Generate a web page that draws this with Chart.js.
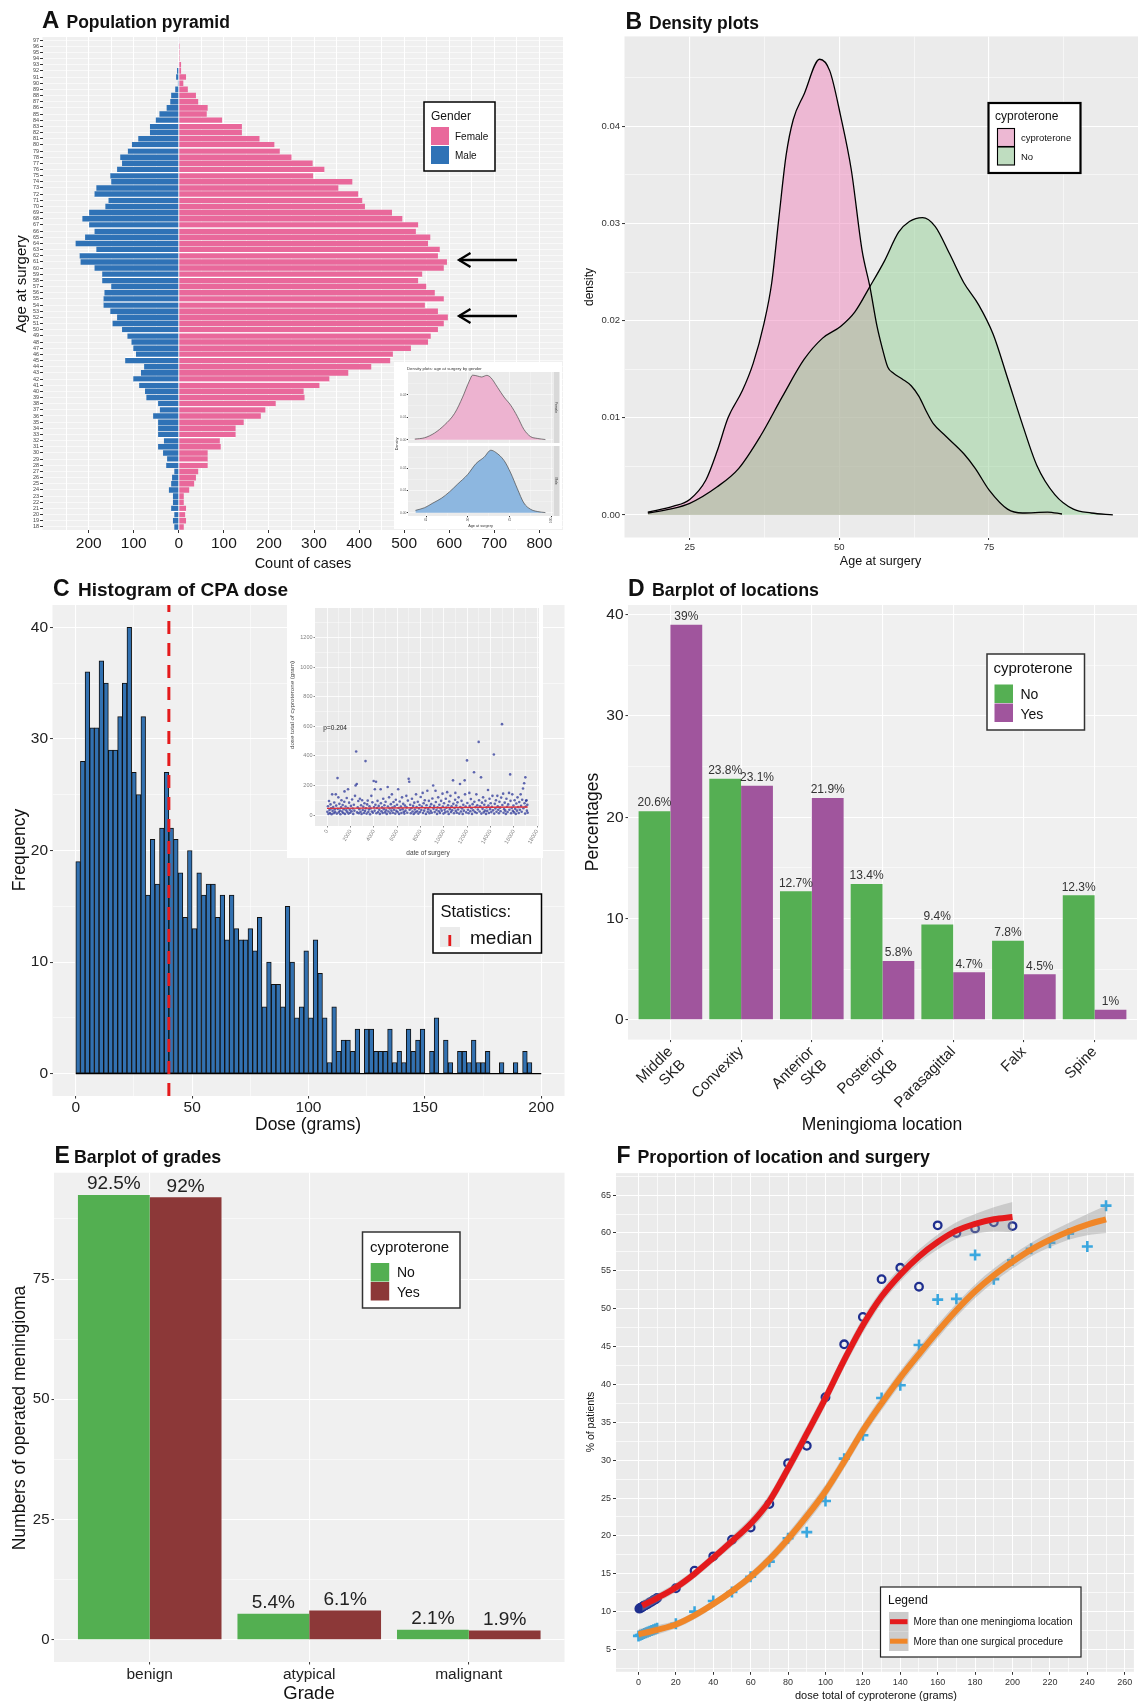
<!DOCTYPE html>
<html><head><meta charset="utf-8">
<script src="https://cdn.jsdelivr.net/npm/chart.js@4.4.1/dist/chart.umd.min.js"></script>
<style>
html,body{margin:0;padding:0;background:#fff;}
#wrap{position:relative;width:1142px;height:1702px;overflow:hidden;background:#fff;}
canvas{position:absolute;}
.ibg{position:absolute;background:#fff;}
#ov{position:absolute;left:0;top:0;z-index:10;}
</style></head>
<body><div id="wrap">
<div class="ibg" style="left:394px;top:362px;width:168px;height:167px;z-index:2"></div>
<div class="ibg" style="left:287px;top:604px;width:256px;height:254px;z-index:2"></div>
<svg id="ov" width="1142" height="1702" font-family="'Liberation Sans', Arial, Helvetica, sans-serif" fill="#111">
<text x="42" y="27.5" font-size="24" font-weight="bold">A</text>
<text x="66.5" y="27.5" font-size="17.5" font-weight="bold">Population pyramid</text>
<text x="625.5" y="28.5" font-size="23" font-weight="bold">B</text>
<text x="649" y="28.5" font-size="17.5" font-weight="bold">Density plots</text>
<text x="53" y="595.5" font-size="23" font-weight="bold">C</text>
<text x="78" y="595.5" font-size="19" font-weight="bold">Histogram of CPA dose</text>
<text x="628" y="595.5" font-size="23" font-weight="bold">D</text>
<text x="652" y="595.5" font-size="17.8" font-weight="bold">Barplot of locations</text>
<text x="54.5" y="1162.5" font-size="23" font-weight="bold">E</text>
<text x="74" y="1162.5" font-size="17.8" font-weight="bold">Barplot of grades</text>
<text x="616.5" y="1162.5" font-size="23" font-weight="bold">F</text>
<text x="637.5" y="1162.5" font-size="17.8" font-weight="bold">Proportion of location and surgery</text>
<text x="303" y="568" font-size="14.5" text-anchor="middle">Count of cases</text>
<text transform="translate(26,284) rotate(-90)" font-size="15" text-anchor="middle">Age at surgery</text>
<text x="880.5" y="564.5" font-size="12.5" text-anchor="middle">Age at surgery</text>
<text transform="translate(593,287) rotate(-90)" font-size="12" text-anchor="middle">density</text>
<text x="308" y="1129.5" font-size="17.5" text-anchor="middle">Dose (grams)</text>
<text transform="translate(24.5,850) rotate(-90)" font-size="17.5" text-anchor="middle">Frequency</text>
<text x="882" y="1129.5" font-size="17.5" text-anchor="middle">Meningioma location</text>
<text transform="translate(597.5,822) rotate(-90)" font-size="17.5" text-anchor="middle">Percentages</text>
<text x="309" y="1699" font-size="18.5" text-anchor="middle">Grade</text>
<text transform="translate(24.5,1418) rotate(-90)" font-size="17.5" text-anchor="middle">Numbers of operated meningioma</text>
<text x="876" y="1698.5" font-size="11" text-anchor="middle">dose total of cyproterone (grams)</text>
<text transform="translate(594,1422) rotate(-90)" font-size="10.5" text-anchor="middle">% of patients</text>
<rect x="424" y="102" width="71" height="69" fill="#fff" stroke="#000" stroke-width="1.5"/>
<text x="431" y="119.5" font-size="12">Gender</text>
<rect x="431" y="127" width="18" height="18" fill="#E9689B"/>
<rect x="431" y="146" width="18" height="18" fill="#2F72B6"/>
<text x="455" y="140" font-size="10">Female</text>
<text x="455" y="159" font-size="10">Male</text>
<g stroke="#000" stroke-width="2.3" fill="none">
<line x1="459" y1="260" x2="517" y2="260"/><polyline points="470.5,253 459,260 470.5,267"/>
<line x1="459" y1="316" x2="517" y2="316"/><polyline points="470.5,309 459,316 470.5,323"/>
</g>
<text x="407" y="369.5" font-size="4.3" fill="#333">Density plots: age at surgery by gender</text>
<text transform="translate(397.5,444) rotate(-90)" font-size="3.8" text-anchor="middle" fill="#333">Density</text>
<text x="480.5" y="527" font-size="3.8" text-anchor="middle" fill="#333">Age at surgery</text>
<rect x="553.5" y="372" width="6" height="71" fill="#D9D9D9"/>
<rect x="553.5" y="446" width="6" height="70" fill="#D9D9D9"/>
<text transform="translate(555.3,407.5) rotate(90)" font-size="3.3" text-anchor="middle" fill="#333">Female</text>
<text transform="translate(555.3,481) rotate(90)" font-size="3.3" text-anchor="middle" fill="#333">Male</text>
<rect x="988.5" y="103" width="92" height="70" fill="#fff" stroke="#000" stroke-width="2.2"/>
<text x="995" y="120" font-size="12">cyproterone</text>
<rect x="997.5" y="128.5" width="17" height="18" fill="#EDB8D3" stroke="#000" stroke-width="1.1"/>
<rect x="997.5" y="147" width="17" height="18" fill="#BFDDC0" stroke="#000" stroke-width="1.1"/>
<text x="1021" y="141" font-size="9.5">cyproterone</text>
<text x="1021" y="159.5" font-size="9.5">No</text>
<text x="323.3" y="729.5" font-size="6.5" fill="#222">p=0.204</text>
<text x="428" y="854.5" font-size="6.5" text-anchor="middle" fill="#444">date of surgery</text>
<text transform="translate(294,705) rotate(-90)" font-size="6.2" text-anchor="middle" fill="#444">dose total of cyproterone (gram)</text>
<rect x="433" y="894" width="108.5" height="59" fill="#fff" stroke="#000" stroke-width="1.5"/>
<text x="440.5" y="916.5" font-size="16.5">Statistics:</text>
<rect x="440" y="927" width="20" height="20" fill="#EBEBEB"/>
<line x1="449.8" y1="935" x2="449.8" y2="946" stroke="#E41A1C" stroke-width="2.8"/>
<text x="470" y="943.5" font-size="19">median</text>
<rect x="987" y="654" width="97.5" height="76" fill="#fff" stroke="#333" stroke-width="1.5"/>
<text x="993.5" y="673" font-size="15">cyproterone</text>
<rect x="994.5" y="684.5" width="18.5" height="18.5" fill="#55AF53"/>
<rect x="994.5" y="703.5" width="18.5" height="18.5" fill="#A0559D"/>
<text x="1020.5" y="699" font-size="14">No</text>
<text x="1020.5" y="718.5" font-size="14">Yes</text>
<rect x="362.5" y="1232" width="97.5" height="76" fill="#fff" stroke="#333" stroke-width="1.5"/>
<text x="370" y="1252" font-size="15">cyproterone</text>
<rect x="370.7" y="1263" width="18.5" height="18.5" fill="#53AF51"/>
<rect x="370.7" y="1282" width="18.5" height="18.5" fill="#8C3838"/>
<text x="397" y="1277" font-size="14">No</text>
<text x="397" y="1296.5" font-size="14">Yes</text>
<rect x="880.5" y="1587" width="200.5" height="70" fill="#fff" stroke="#222" stroke-width="1.2"/>
<text x="888" y="1603.5" font-size="12">Legend</text>
<rect x="889" y="1612" width="19.5" height="19.5" fill="#CCCCCC"/>
<line x1="890" y1="1621.7" x2="907.5" y2="1621.7" stroke="#E41A1C" stroke-width="5"/>
<rect x="889" y="1631.5" width="19.5" height="19.5" fill="#CCCCCC"/>
<line x1="890" y1="1641.2" x2="907.5" y2="1641.2" stroke="#F08628" stroke-width="5"/>
<text x="913.5" y="1625" font-size="10">More than one meningioma location</text>
<text x="913.5" y="1644.7" font-size="10">More than one surgical procedure</text>
</svg>
</div>
<script>
// ================= DATA =================
const ages = [18,19,20,21,22,23,24,25,26,27,28,29,30,31,32,33,34,35,36,37,38,39,40,41,42,43,44,45,46,47,48,49,50,51,52,53,54,55,56,57,58,59,60,61,62,63,64,65,66,67,68,69,70,71,72,73,74,75,76,77,78,79,80,81,82,83,84,85,86,87,88,89,90,91,92,93,94,95,96,97];
const female = [11,16,14,16,11,11,23,34,38,43,64,64,64,93,91,126,126,144,182,192,215,279,277,312,334,376,427,469,475,515,553,559,575,588,597,575,546,588,568,549,531,540,588,595,575,579,553,558,526,531,496,473,413,407,398,354,385,298,323,297,250,224,212,179,140,140,96,62,64,43,38,20,10,16,5,5,2,2,2,1];
const male = [10,13,10,17,13,13,22,17,15,10,28,26,35,46,33,46,46,46,57,42,46,72,75,88,101,84,77,119,95,101,105,114,126,147,137,152,167,167,165,150,170,170,187,218,220,183,229,208,187,199,214,199,163,156,187,183,150,152,137,126,130,113,104,90,64,64,51,43,27,19,17,8,2,6,4,1,0,0,1,1];
const pyramidTicks = [-250,-200,-150,-100,-50,0,50,100,150,200,250,300,350,400,450,500,550,600,650,700,750,800];
const pyramidGaps = [20.5,28.5,32.5,37.5,41.5,45.5,49.5,54.5,58.5,62.5,66.5,71.5,75.5,79.5,83.5];
const insetFemaleAge = [18.1,24,30,36,42,46.8,50.8,52.8,55.8,58.1,61.3,63.7,67.7,71.6,75.6,79.6,83.5,87.5,91.5,96.4];
const insetFemaleDens = [0.0003,0.0009,0.003,0.0066,0.0117,0.0189,0.026,0.0286,0.0282,0.0278,0.0285,0.0275,0.0232,0.0189,0.0153,0.0103,0.0046,0.0014,0.0006,0.0001];
const insetMaleAge = [18.5,24,29,34,38.9,43.8,49.8,54.8,59.7,63.7,66.7,71.6,75.6,79.6,83.5,87.5,91.5,96.4];
const insetMaleDens = [0.0011,0.0023,0.0044,0.0065,0.0094,0.0129,0.0172,0.0221,0.025,0.0281,0.0271,0.0235,0.0179,0.0108,0.0044,0.0016,0.0006,0.0001];
const insetATicksX = [25,37.5,50,62.5,75,87.5,100];
const insetATicksY = [0,0.005,0.01,0.015,0.02,0.025];
const pinkAge = [18.0,22.3,25.0,27.7,29.6,31.4,33.8,35.6,37.4,38.7,39.9,41.1,42.3,44.1,46.7,48.4,50.2,52.0,53.8,55.1,56.3,57.2,58.1,59.0,60.5,62.0,63.3,64.5,65.7,67.8,70.8,72.7,75.1,78.1,80.6,84.8,87.2];
const pinkDens = [0.0003,0.0009,0.0016,0.0036,0.0066,0.0100,0.0128,0.0156,0.0197,0.0239,0.0306,0.0370,0.0407,0.0433,0.0469,0.0457,0.0411,0.0355,0.0272,0.0235,0.0194,0.0171,0.0152,0.0146,0.0140,0.0133,0.0122,0.0107,0.0094,0.0081,0.0063,0.0048,0.0025,0.0006,0.0002,0.0003,0.0001];
const greenAge = [18.0,21.7,25.0,29.6,33.2,36.8,40.5,44.1,47.2,50.2,52.6,55.1,57.5,59.9,61.7,63.9,66.0,68.4,70.8,73.3,75.7,78.1,80.6,83.0,86.0,89.1,92.1,95.7];
const greenDens = [0.0002,0.0006,0.0012,0.0029,0.0048,0.0081,0.0122,0.0160,0.0182,0.0194,0.0209,0.0235,0.0261,0.0291,0.0302,0.0306,0.0297,0.0269,0.0239,0.0216,0.0186,0.0141,0.0093,0.0051,0.0021,0.0006,0.0002,0.0000];
const densityTicksX = [25,37.5,50,62.5,75,87.5];
const densityTicksY = [0,0.005,0.01,0.015,0.02,0.025,0.03,0.035,0.04,0.045];
const histBins = [1,3,5,7,9,11,13,15,17,19,21,23,25,27,29,31,33,35,37,39,41,43,45,47,49,51,53,55,57,59,61,63,65,67,69,71,73,75,77,79,81,83,85,87,89,91,93,95,97,99,101,103,105,107,109,111,113,115,117,119,121,123,125,127,129,131,133,135,137,139,141,143,145,147,149,151,153,155,157,159,161,163,165,167,169,171,173,175,177,179,181,183,185,187,189,191,193,195,197,199];
const histCounts = [19,28,36,31,31,37,35,29,29,32,35,40,27,25,32,16,21,17,22,27,22,21,18,14,20,13,18,16,17,17,14,16,12,16,13,12,12,13,11,14,6,10,8,8,6,15,10,5,6,11,5,12,9,5,1,6,2,3,3,2,4,0,4,4,2,2,2,4,1,2,1,4,2,3,4,0,2,5,0,3,1,0,2,2,1,3,1,1,2,0,0,1,0,0,1,0,2,1,0,0];
const medianDose = 40;
const histTicksX = [0,25,50,75,100,125,150,175,200];
const histTicksY = [0,5,10,15,20,25,30,35,40];
const insetPoints = [[30,22],[80,60],[120,8],[170,95],[210,35],[260,14],[300,72],[350,45],[390,5],[440,140],[480,28],[530,55],[570,12],[620,85],[660,38],[700,20],[750,140],[790,64],[840,10],[900,250],[920,42],[970,120],[1010,18],[1060,76],[1100,30],[1150,6],[1200,52],[1240,100],[1290,24],[1340,68],[1380,14],[1430,40],[1480,90],[1500,160],[1540,8],[1590,58],[1640,32],[1690,115],[1740,20],[1780,48],[1800,175],[1850,10],[1900,84],[1950,36],[2000,16],[2050,62],[2100,26],[2150,105],[2200,44],[2250,8],[2300,70],[2350,30],[2400,130],[2450,200],[2500,430],[2550,210],[2580,18],[2630,52],[2680,95],[2720,12],[2770,40],[2820,110],[2870,22],[2920,66],[2960,8],[3010,100],[3060,34],[3110,56],[3160,14],[3210,80],[3260,28],[3300,365],[3340,46],[3390,10],[3440,72],[3490,98],[3540,20],[3590,38],[3640,60],[3690,6],[3740,44],[3800,130],[3840,24],[3890,86],[3940,16],[4000,230],[4030,54],[4080,30],[4100,175],[4150,70],[4200,225],[4230,12],[4280,48],[4330,96],[4380,20],[4430,62],[4480,36],[4530,8],[4600,175],[4620,80],[4670,26],[4720,52],[4770,14],[4820,110],[4870,40],[4920,66],[4970,18],[5020,90],[5070,32],[5120,8],[5200,190],[5220,58],[5270,24],[5320,120],[5370,44],[5420,12],[5470,74],[5520,30],[5560,140],[5600,50],[5650,16],[5700,88],[5750,36],[5800,60],[5850,10],[5900,104],[5950,28],[6000,70],[6050,20],[6100,175],[6130,48],[6180,8],[6230,92],[6280,34],[6330,58],[6380,14],[6430,120],[6480,40],[6530,76],[6580,22],[6630,10],[6680,64],[6730,30],[6800,130],[6830,52],[6880,16],[6930,98],[7000,245],[7050,225],[7080,36],[7130,70],[7180,12],[7230,46],[7280,110],[7330,24],[7380,62],[7430,8],[7480,84],[7530,38],[7580,18],[7630,140],[7680,54],[7730,26],[7780,90],[7830,10],[7880,44],[7930,68],[7980,20],[8030,122],[8080,34],[8130,58],[8200,150],[8230,14],[8280,80],[8330,30],[8380,100],[8430,48],[8480,8],[8530,66],[8600,165],[8630,22],[8680,40],[8730,96],[8780,12],[8830,56],[8880,28],[8930,74],[8980,16],[9030,112],[9100,200],[9130,42],[9180,62],[9230,20],[9300,165],[9330,88],[9380,34],[9430,8],[9480,52],[9530,120],[9580,26],[9630,70],[9680,14],[9730,44],[9780,96],[9830,30],[9900,145],[9930,58],[9980,10],[10030,80],[10080,36],[10130,18],[10180,110],[10230,50],[10300,155],[10330,24],[10380,66],[10430,8],[10480,92],[10530,40],[10580,130],[10630,20],[10680,60],[10730,32],[10800,235],[10830,76],[10880,12],[10930,48],[10980,104],[11000,150],[11030,28],[11080,64],[11130,16],[11180,86],[11230,38],[11280,120],[11330,10],[11400,210],[11430,54],[11480,24],[11530,96],[11580,44],[11630,8],[11680,70],[11730,30],[11800,235],[11830,140],[11880,58],[11930,18],[12000,370],[12030,82],[12080,36],[12130,12],[12200,150],[12230,62],[12280,26],[12330,108],[12380,46],[12430,8],[12480,74],[12530,32],[12600,290],[12630,90],[12680,20],[12730,54],[12800,140],[12830,14],[12880,66],[12930,38],[13000,495],[13030,100],[13080,24],[13130,60],[13200,255],[13230,10],[13280,84],[13330,42],[13380,120],[13430,18],[13480,70],[13530,30],[13580,96],[13630,8],[13680,52],[13730,28],[13800,170],[13830,64],[13880,14],[13930,110],[13980,40],[14030,80],[14080,20],[14130,56],[14180,130],[14230,32],[14300,410],[14330,10],[14380,76],[14430,44],[14480,100],[14530,22],[14600,130],[14630,60],[14680,36],[14730,12],[14780,90],[14830,50],[14880,26],[14930,118],[15000,615],[15030,68],[15100,145],[15130,16],[15180,40],[15230,84],[15280,30],[15330,8],[15380,110],[15430,56],[15480,20],[15530,72],[15600,150],[15630,36],[15700,275],[15730,96],[15780,12],[15830,48],[15880,140],[15930,28],[15980,64],[16030,18],[16080,100],[16130,42],[16180,8],[16230,78],[16280,30],[16330,120],[16380,54],[16430,14],[16480,88],[16530,36],[16600,140],[16630,62],[16680,22],[16730,104],[16800,180],[16830,46],[16900,215],[16930,80],[16980,10],[17000,255],[17030,58],[17060,96],[17100,100],[17130,30],[17170,70],[17200,16]];
const insetTrend = [[0,45],[17200,55]];
const insetCTicksX = [0,1000,2000,3000,4000,5000,6000,7000,8000,9000,10000,11000,12000,13000,14000,15000,16000,17000,18000];
const insetCTicksY = [0,100,200,300,400,500,600,700,800,900,1000,1100,1200,1300];
const locLabels = [['Middle','SKB'],'Convexity',['Anterior','SKB'],['Posterior','SKB'],'Parasagittal','Falx','Spine'];
const locPos = [1,2,3,4,5,6,7];
const locNo = [20.6,23.8,12.7,13.4,9.4,7.8,12.3];
const locYes = [39,23.1,21.9,5.8,4.7,4.5,1];
const locTicksY = [0,5,10,15,20,25,30,35,40];
const gradeLabels = ['benign','atypical','malignant'];
const gradePos = [1,2,3];
const gradeNo = [92.5,5.4,2.1];
const gradeYes = [92,6.1,1.9];
const gradeTicksY = [0,12.5,25,37.5,50,62.5,75,87.5];
const circleDose = [0.5,1,1.5,2,2.5,3,3.5,4,5,6,7,8,9,10,20,30,40,50,60,70,80,90,100,110,120,130,140,150,160,170,180,190,200];
const circlePct = [10.4,10.5,10.5,10.6,10.7,10.8,10.8,10.9,11.0,11.2,11.3,11.5,11.6,11.8,13.1,15.4,17.3,19.5,21.1,24.2,29.6,31.9,38.3,45.3,48.9,53.9,55.4,52.9,61.0,60.0,60.6,61.4,60.9];
const crossDose = [0,1,2,3,4,5,6,7,8,9,10,20,30,40,50,60,70,80,90,100,110,120,130,140,150,160,170,180,190,200,210,220,230,240,250];
const crossPct = [6.8,6.9,7.0,7.1,7.2,7.3,7.4,7.5,7.6,7.7,7.8,8.4,10.0,11.4,12.6,14.6,16.6,19.7,20.5,24.6,30.2,33.3,38.2,39.9,45.2,51.2,51.3,57.1,53.9,56.4,57.9,58.7,59.9,58.2,63.6];
const redDose = [2,10,20,30,40,50,60,70,80,90,100,110,120,130,140,150,160,170,180,190,200];
const redFit = [10.8,11.8,13.2,15.0,17.1,19.3,21.6,24.6,28.9,33.5,38.2,43.2,47.8,51.6,54.5,56.9,58.8,60.3,61.2,61.8,62.1];
const redUpper = [11.5,12.4,13.8,15.6,17.7,20.0,22.4,25.5,29.9,34.5,39.2,44.2,48.8,52.5,55.4,57.8,59.8,61.4,62.5,63.4,64.1];
const redLower = [10.1,11.2,12.6,14.4,16.5,18.6,20.8,23.7,27.9,32.5,37.2,42.2,46.8,50.7,53.6,56.0,57.8,59.2,59.9,60.2,60.1];
const orangeDose = [0,10,20,30,40,50,60,70,80,90,100,110,120,130,140,150,160,170,180,190,200,210,220,230,240,250];
const orangeFit = [7.0,7.6,8.3,9.5,11.0,12.7,14.6,16.9,19.6,22.6,25.9,29.8,33.9,37.5,40.9,44.0,47.0,49.8,52.3,54.4,56.2,57.8,59.1,60.2,61.1,61.8];
const orangeUpper = [7.7,8.2,8.8,10.0,11.5,13.2,15.2,17.6,20.4,23.5,26.8,30.7,34.8,38.4,41.8,44.9,47.9,50.7,53.2,55.3,57.1,58.7,60.1,61.3,62.5,63.6];
const orangeLower = [6.3,7.0,7.8,9.0,10.5,12.2,14.0,16.2,18.8,21.7,25.0,28.9,33.0,36.6,40.0,43.1,46.1,48.9,51.4,53.5,55.3,56.9,58.1,59.1,59.7,60.0];
const propTicksX = [0,10,20,30,40,50,60,70,80,90,100,110,120,130,140,150,160,170,180,190,200,210,220,230,240,250,260];
const propTicksY = [2.5,5,7.5,10,12.5,15,17.5,20,22.5,25,27.5,30,32.5,35,37.5,40,42.5,45,47.5,50,52.5,55,57.5,60,62.5,65,67.5];

// ================= HELPERS =================
const wrap = document.getElementById('wrap');
const FONT = "'Liberation Sans', Arial, Helvetica, sans-serif";
Chart.defaults.font.family = FONT;
Chart.defaults.color = '#333';
Chart.defaults.animation = false;
Chart.defaults.responsive = false;
Chart.defaults.maintainAspectRatio = false;
Chart.defaults.events = [];
Chart.defaults.plugins.legend.display = false;
Chart.defaults.plugins.tooltip.enabled = false;

Chart.register({
  id: 'panelBg',
  beforeDraw(chart, args, opts) {
    if (!opts || !opts.color) return;
    const a = chart.chartArea, ctx = chart.ctx;
    ctx.save(); ctx.fillStyle = opts.color;
    ctx.fillRect(a.left, a.top, a.right - a.left, a.bottom - a.top);
    ctx.restore();
  }
});

const barLabels = {
  id: 'barLabels',
  afterDatasetsDraw(chart, args, opts) {
    if (!opts || !opts.size) return;
    const ctx = chart.ctx;
    ctx.save();
    ctx.font = opts.size + 'px ' + FONT;
    ctx.fillStyle = opts.color || '#222';
    ctx.textAlign = 'center'; ctx.textBaseline = 'bottom';
    chart.data.datasets.forEach((ds, di) => {
      const meta = chart.getDatasetMeta(di);
      meta.data.forEach((el, i) => {
        ctx.fillText(String(ds.data[i].y) + '%', el.x, el.y - (opts.gap || 2));
      });
    });
    ctx.restore();
  }
};

const gapLines = {
  id: 'gapLines',
  afterDatasetsDraw(chart) {
    const xs = chart.scales.x, ys = chart.scales.y, ctx = chart.ctx;
    ctx.save(); ctx.strokeStyle = '#fff'; ctx.lineWidth = 1.2;
    pyramidGaps.forEach(b => {
      const i = Math.floor(b) - ages[0];
      const y = (ys.getPixelForValue(i) + ys.getPixelForValue(i + 1)) / 2;
      const l = Math.max(male[i], male[i + 1]), r = Math.max(female[i], female[i + 1]);
      ctx.beginPath(); ctx.moveTo(xs.getPixelForValue(-l), y); ctx.lineTo(xs.getPixelForValue(r), y); ctx.stroke();
    });
    ctx.restore();
  }
};

function axis(values, isMajor, fmt, o) {
  o = o || {};
  return {
    type: o.type || 'linear',
    min: o.min, max: o.max,
    offset: false,
    afterBuildTicks: s => { s.ticks = values.map(v => ({ value: v })); },
    ticks: Object.assign({
      autoSkip: false, maxRotation: 0, minRotation: 0,
      padding: (o.pad !== undefined ? o.pad : 2), color: o.color || '#222',
      font: { size: o.size || 12 },
      callback: v => isMajor(v) ? fmt(v) : ''
    }, o.ticks || {}),
    grid: {
      offset: false, color: o.gridColor || '#fff',
      lineWidth: c => (c.tick && !isMajor(c.tick.value)) ? (o.minor !== undefined ? o.minor : 0.55) : (o.major !== undefined ? o.major : 1.1),
      tickColor: c => (c.tick && !isMajor(c.tick.value)) ? 'rgba(0,0,0,0)' : (o.tickColor || '#333'),
      tickWidth: o.tickWidth || 1,
      tickLength: (o.tickLength !== undefined ? o.tickLength : 3),
      drawTicks: o.drawTicks !== false
    },
    border: { display: false }
  };
}

function makeChart(box, plot, cfg, z) {
  const [x0, y0, x1, y1] = box, [px0, py0, px1, py1] = plot;
  const c = document.createElement('canvas');
  c.width = Math.round(x1 - x0); c.height = Math.round(y1 - y0);
  c.style.left = x0 + 'px'; c.style.top = y0 + 'px';
  c.style.width = c.width + 'px'; c.style.height = c.height + 'px';
  c.style.zIndex = z || 1;
  wrap.appendChild(c);
  const o = cfg.options;
  o.layout = { padding: { left: 0, top: py0 - y0, right: (x0 + c.width) - px1, bottom: 0 } };
  o.scales.x.afterFit = s => { s.height = (y0 + c.height) - py1; s.paddingLeft = 0; s.paddingRight = 0; s.paddingTop = 0; s.paddingBottom = 0; };
  o.scales.y.afterFit = s => { s.width = px0 - x0; s.paddingLeft = 0; s.paddingRight = 0; s.paddingTop = 0; s.paddingBottom = 0; };
  return new Chart(c, cfg);
}
const pts = (xs, ys) => xs.map((x, i) => ({ x: x, y: ys[i] }));
const isDec2 = v => Math.abs(v * 100 - Math.round(v * 100)) < 1e-7;

// ================= PANEL A =================
makeChart([0, 30, 566, 560], [42.5, 37, 563, 530], {
  type: 'bar',
  data: {
    labels: ages.map(String),
    datasets: [
      { label: 'Female', data: female, backgroundColor: '#E9689B', stack: 's', barPercentage: 0.9, categoryPercentage: 1 },
      { label: 'Male', data: male.map(v => -v), backgroundColor: '#2F72B6', stack: 's', barPercentage: 0.9, categoryPercentage: 1 }
    ]
  },
  options: {
    indexAxis: 'y',
    plugins: { panelBg: { color: '#F0F0F0' } },
    scales: {
      x: Object.assign(axis(pyramidTicks, v => v % 100 === 0, v => String(Math.abs(v)),
        { min: -302.5, max: 852.5, size: 15.5, color: '#1a1a1a', tickLength: 3, pad: 1, major: 1, minor: 1 }), { stacked: true }),
      y: {
        type: 'category', stacked: true, reverse: true, offset: true,
        ticks: { autoSkip: false, font: { size: 5.5 }, color: '#444', padding: 1 },
        grid: { offset: false, color: '#fff', lineWidth: 0.6, tickColor: '#333', tickWidth: 1, tickLength: 2.5 },
        border: { display: false }
      }
    }
  },
  plugins: [gapLines]
}, 1);

function facet(box, plot, ageArr, densArr, fillCol, bottom) {
  makeChart(box, plot, {
    type: 'line',
    data: { datasets: [{ data: pts(ageArr, densArr), borderColor: '#4a4a4a', borderWidth: 0.7, backgroundColor: fillCol, fill: 'origin', pointRadius: 0, cubicInterpolationMode: 'monotone' }] },
    options: {
      plugins: { panelBg: { color: '#EBEBEB' } },
      scales: {
        x: axis(insetATicksX, v => v % 25 === 0, v => String(v), { min: 14.05, max: 100.95, size: 3.3, color: '#666', major: 0.5, minor: 0.25, tickLength: bottom ? 1.2 : 0, drawTicks: bottom, pad: 0.5, ticks: { display: bottom, maxRotation: 90, minRotation: 90 } }),
        y: axis(insetATicksY, isDec2, v => v.toFixed(2), { min: -0.00143, max: 0.0300, size: 3.3, color: '#666', major: 0.5, minor: 0.25, tickLength: 1.2, pad: 0.5 })
      }
    }
  }, 3);
}
facet([394, 366, 562, 445], [408, 372, 553, 443], insetFemaleAge, insetFemaleDens, '#EDB3D0', false);
facet([394, 445, 562, 529], [408, 446, 553, 516], insetMaleAge, insetMaleDens, '#8DB7E0', true);

// ================= PANEL B =================
makeChart([571, 30, 1142, 570], [624.5, 36.4, 1138, 537.5], {
  type: 'line',
  data: {
    datasets: [
      { label: 'cyproterone', data: pts(pinkAge, pinkDens), borderWidth: 0, borderColor: 'rgba(0,0,0,0)', backgroundColor: 'rgba(239,133,187,0.5)', fill: 'origin', pointRadius: 0, cubicInterpolationMode: 'monotone', order: 3 },
      { label: 'No', data: pts(greenAge, greenDens), borderWidth: 0, borderColor: 'rgba(0,0,0,0)', backgroundColor: 'rgba(147,207,149,0.5)', fill: 'origin', pointRadius: 0, cubicInterpolationMode: 'monotone', order: 2 },
      { label: 'cyproterone outline', data: pts(pinkAge, pinkDens), borderColor: '#000', borderWidth: 1.3, fill: false, pointRadius: 0, cubicInterpolationMode: 'monotone', order: 1 },
      { label: 'No outline', data: pts(greenAge, greenDens), borderColor: '#000', borderWidth: 1.3, fill: false, pointRadius: 0, cubicInterpolationMode: 'monotone', order: 0 }
    ]
  },
  options: {
    plugins: { panelBg: { color: '#EBEBEB' } },
    scales: {
      x: axis(densityTicksX, v => v % 25 === 0, v => String(v), { min: 14.1, max: 99.9, size: 9.5, color: '#333', tickLength: 2.5, pad: 2 }),
      y: axis(densityTicksY, isDec2, v => v.toFixed(2), { min: -0.00232, max: 0.04925, size: 9.5, color: '#333', tickLength: 2.5, pad: 2 })
    }
  }
}, 1);

// ================= PANEL C =================
makeChart([0, 600, 571, 1115], [52.5, 605, 564.5, 1096], {
  type: 'bar',
  data: {
    datasets: [
      { type: 'line', data: [{ x: medianDose, y: -2 }, { x: medianDose, y: 42 }], borderColor: '#E41A1C', borderWidth: 3, borderDash: [13, 9], pointRadius: 0, fill: false, order: 0 },
      { type: 'line', data: [{ x: 0, y: 0 }, { x: 200, y: 0 }], borderColor: '#000', borderWidth: 1.3, pointRadius: 0, fill: false, order: 1 },
      { type: 'bar', data: pts(histBins, histCounts), backgroundColor: '#3271B1', borderColor: '#111', borderWidth: 1, borderSkipped: false, barPercentage: 1, categoryPercentage: 1, order: 2 }
    ]
  },
  options: {
    plugins: { panelBg: { color: '#F0F0F0' } },
    scales: {
      x: axis(histTicksX, v => v % 50 === 0, v => String(v), { min: -10, max: 210, size: 15.5, tickLength: 2.5, pad: 0 }),
      y: axis(histTicksY, v => v % 10 === 0, v => String(v), { min: -2, max: 42, size: 15.5, tickLength: 2.5, pad: 2 })
    }
  }
}, 1);

makeChart([287, 604, 543, 858], [315, 606, 539, 826], {
  type: 'scatter',
  data: {
    datasets: [
      { type: 'line', data: insetTrend.map(p => ({ x: p[0], y: p[1] })), borderColor: '#E0303A', borderWidth: 1.4, pointRadius: 0, fill: false, order: 0 },
      { type: 'scatter', data: insetPoints.map(p => ({ x: p[0], y: p[1] })), pointRadius: 1.3, borderWidth: 0, backgroundColor: 'rgba(38,48,150,0.72)', order: 1 }
    ]
  },
  options: {
    plugins: { panelBg: { color: '#EBEBEB' } },
    scales: {
      x: axis(insetCTicksX, v => v % 2000 === 0, v => String(v), { min: -1030, max: 18170, size: 5.5, color: '#808080', major: 0.8, minor: 0.4, tickLength: 1.5, pad: 1, tickColor: '#888', ticks: { maxRotation: 60, minRotation: 60 } }),
      y: axis(insetCTicksY, v => v % 200 === 0, v => String(v), { min: -74, max: 1401, size: 5.5, color: '#808080', major: 0.8, minor: 0.4, tickLength: 1.5, pad: 1, tickColor: '#888' })
    }
  }
}, 3);

// ================= PANEL D =================
makeChart([571, 600, 1142, 1112], [628, 605, 1137, 1039.6], {
  type: 'bar',
  data: {
    datasets: [
      { label: 'No', data: pts(locPos, locNo), backgroundColor: '#55AF53', barPercentage: 1, categoryPercentage: 0.9 },
      { label: 'Yes', data: pts(locPos, locYes), backgroundColor: '#A0559D', barPercentage: 1, categoryPercentage: 0.9 }
    ]
  },
  options: {
    plugins: { panelBg: { color: '#F0F0F0' }, barLabels: { size: 12, color: '#333', gap: 2 } },
    scales: {
      x: axis(locPos, v => true, v => locLabels[v - 1], { min: 0.4, max: 7.6, size: 15, tickLength: 2.5, pad: 1, ticks: { maxRotation: 45, minRotation: 45 } }),
      y: axis(locTicksY, v => v % 10 === 0, v => String(v), { min: -1.95, max: 40.95, size: 15.5, tickLength: 2.5, pad: 2 })
    }
  },
  plugins: [barLabels]
}, 1);

// ================= PANEL E =================
makeChart([0, 1165, 571, 1702], [54, 1172.7, 564.5, 1662], {
  type: 'bar',
  data: {
    datasets: [
      { label: 'No', data: pts(gradePos, gradeNo), backgroundColor: '#53AF51', barPercentage: 1, categoryPercentage: 0.9 },
      { label: 'Yes', data: pts(gradePos, gradeYes), backgroundColor: '#8C3838', barPercentage: 1, categoryPercentage: 0.9 }
    ]
  },
  options: {
    plugins: { panelBg: { color: '#F0F0F0' }, barLabels: { size: 19, color: '#222', gap: 1.5 } },
    scales: {
      x: axis(gradePos, v => true, v => gradeLabels[v - 1], { min: 0.4, max: 3.6, size: 15.5, tickLength: 2.5, pad: 1 }),
      y: axis(gradeTicksY, v => v % 25 === 0, v => String(v), { min: -4.625, max: 97.125, size: 15, tickLength: 2.5, pad: 2 })
    }
  },
  plugins: [barLabels]
}, 1);

// ================= PANEL F =================
const bandStyle = { borderColor: 'rgba(0,0,0,0)', borderWidth: 0, pointRadius: 0, cubicInterpolationMode: 'monotone', order: 2 };
makeChart([571, 1165, 1142, 1702], [616, 1172.7, 1141, 1671.8], {
  type: 'scatter',
  data: {
    datasets: [
      Object.assign({ type: 'line', data: pts(redDose, redUpper), fill: '+1', backgroundColor: 'rgba(153,153,153,0.4)' }, bandStyle),
      Object.assign({ type: 'line', data: pts(redDose, redLower), fill: false }, bandStyle),
      Object.assign({ type: 'line', data: pts(orangeDose, orangeUpper), fill: '+1', backgroundColor: 'rgba(153,153,153,0.4)' }, bandStyle),
      Object.assign({ type: 'line', data: pts(orangeDose, orangeLower), fill: false }, bandStyle),
      { type: 'line', data: pts(redDose, redFit), borderColor: '#E41A1C', borderWidth: 6, pointRadius: 0, fill: false, cubicInterpolationMode: 'monotone', order: 1 },
      { type: 'line', data: pts(orangeDose, orangeFit), borderColor: '#F08628', borderWidth: 6, pointRadius: 0, fill: false, cubicInterpolationMode: 'monotone', order: 1 },
      { type: 'scatter', data: pts(circleDose, circlePct), pointStyle: 'circle', pointRadius: 3.8, borderWidth: 2.3, borderColor: '#1F2F8F', backgroundColor: 'rgba(0,0,0,0)', order: 3 },
      { type: 'scatter', data: pts(crossDose, crossPct), pointStyle: 'cross', pointRadius: 5.5, borderWidth: 2.6, borderColor: '#3AA7DF', backgroundColor: '#3AA7DF', order: 3 }
    ]
  },
  options: {
    plugins: { panelBg: { color: '#EBEBEB' } },
    scales: {
      x: axis(propTicksX, v => v % 20 === 0, v => String(v), { min: -12, max: 264.9, size: 9, color: '#333', tickLength: 3, pad: 2, major: 1, minor: 0.7 }),
      y: axis(propTicksY, v => v % 5 === 0, v => String(v), { min: 2.06, max: 67.9, size: 9, color: '#333', tickLength: 3, pad: 2, major: 1, minor: 0.7 })
    }
  }
}, 1);
</script>
</body></html>
